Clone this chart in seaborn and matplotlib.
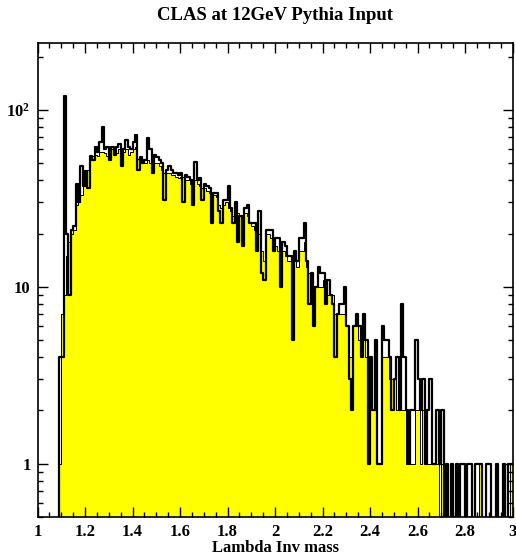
import numpy as np
import pandas as pd
import matplotlib
matplotlib.use("Agg")
import matplotlib.pyplot as plt
import seaborn as sns
from matplotlib.ticker import FixedLocator, MultipleLocator, NullFormatter, FixedFormatter

# ---- data: 200 bins of width 0.01 between 1.0 and 3.0 ----
x_min, x_max, n_bins = 1.0, 3.0, 200

yellow_counts = [
    0, 0, 0, 0, 0, 0, 0, 0, 0, 1,          # 1.00-1.09
    7, 9, 15, 18, 20, 21, 29, 30, 33, 37,  # 1.10-1.19
    42, 46, 52, 55, 56, 55, 58, 58, 57, 55,  # 1.20
    56, 60, 58, 57, 60, 52, 58, 60, 56, 58,  # 1.30
    60, 62, 53, 52, 51, 50, 52, 50, 49, 50,  # 1.40
    50, 48, 46, 44, 44, 44, 43, 43, 42, 41,  # 1.50
    42, 42, 40, 40, 38, 38, 40, 38, 37, 36,  # 1.60
    36, 35, 34, 33, 33, 32, 29, 28, 29, 30,  # 1.70
    28, 27, 25, 27, 26, 25, 24, 26, 25, 23,  # 1.80
    22, 21, 18, 20, 16, 14, 20, 20, 19, 16,  # 1.90
    17, 16, 15, 16, 15, 14, 14, 13, 14, 13,  # 2.00
    16, 16, 18, 13, 12, 10, 9, 10, 10, 10,   # 2.10
    11, 10, 9, 9, 9, 7, 7, 7, 7, 7,          # 2.20
    6, 4, 4, 6, 6, 5, 5, 5, 4, 3,            # 2.30
    2, 2, 2, 1, 1, 4, 4, 4, 3, 3,            # 2.40
    3, 2, 2, 2, 2, 1, 1, 1, 1, 2,            # 2.50
    2, 1, 2, 1, 1, 1, 1, 1, 1, 0,            # 2.60
    1, 0, 0, 0, 0, 0, 0, 0, 0, 0,            # 2.70
    0, 0, 0, 0, 0, 0, 1, 0, 0, 0,            # 2.80
    0, 0, 0, 0, 0, 0, 0, 0, 0, 1,            # 2.90
]

black_counts = [
    0, 0, 0, 0, 0, 0, 0, 0, 0, 4,            # 1.00-1.09
    4, 120, 20, 9, 21, 22, 38, 30, 48, 37,   # 1.10
    45, 36, 55, 52, 62, 58, 66, 80, 60, 62,  # 1.20
    52, 62, 56, 62, 64, 48, 60, 68, 62, 60,  # 1.30
    66, 72, 46, 54, 50, 52, 69, 60, 44, 56,  # 1.40
    54, 52, 50, 31, 46, 48, 46, 44, 44, 43,  # 1.50
    44, 30, 43, 42, 40, 29, 51, 40, 41, 31,  # 1.60
    38, 37, 36, 23, 34, 34, 27, 23, 31, 31,  # 1.70
    37, 28, 23, 30, 18, 25, 17, 28, 29, 23,  # 1.80
    23, 23, 16, 27, 12, 11, 21, 21, 21, 16,  # 1.90
    19, 19, 10, 18, 17, 15, 15, 5, 16, 14,   # 2.00
    19, 19, 23, 14, 8, 12, 6, 10, 13, 12,    # 2.10
    12, 8, 11, 9, 8, 4, 7, 8, 8, 10,         # 2.20
    6, 3, 2, 6, 7, 6, 4, 7, 5, 1,            # 2.30
    4, 2, 5, 1, 1, 6, 5, 5, 4, 2,            # 2.40
    3, 4, 2, 8, 4, 2, 1, 2, 2, 5,            # 2.50
    3, 2, 3, 1, 2, 3, 1, 1, 2, 1,            # 2.60
    2, 0, 1, 0, 1, 0, 1, 0, 1, 1,            # 2.70
    0, 1, 1, 0, 1, 1, 1, 0, 0, 1,            # 2.80
    1, 0, 0, 1, 0, 0, 1, 0, 1, 1,            # 2.90
]

x_tick_values = [1.0, 1.2, 1.4, 1.6, 1.8, 2.0, 2.2, 2.4, 2.6, 2.8, 3.0]
x_tick_labels = ["1", "1.2", "1.4", "1.6", "1.8", "2", "2.2", "2.4", "2.6", "2.8", "3"]
y_tick_values = [1, 10, 100]
y_tick_labels = ["1", "10", "10$^{2}$"]

title_text = "CLAS at 12GeV Pythia Input"
x_label = "Lambda Inv mass"

# ---- style ----
plt.rcParams["font.family"] = ["Liberation Serif", "DejaVu Serif"]
plt.rcParams["font.weight"] = "bold"
plt.rcParams["mathtext.fontset"] = "custom"
plt.rcParams["mathtext.rm"] = "Liberation Serif:bold"
plt.rcParams["mathtext.it"] = "Liberation Serif:bold"
plt.rcParams["mathtext.bf"] = "Liberation Serif:bold"

bin_width = (x_max - x_min) / n_bins
df = pd.DataFrame({
    "mass": x_min + bin_width * (np.arange(n_bins) + 0.5),
    "yellow": np.asarray(yellow_counts, dtype=float),
    "black": np.asarray(black_counts, dtype=float),
})

fig = plt.figure(figsize=(5.16, 5.57), dpi=100)
ax = fig.add_axes([37.5 / 516, 1 - 517 / 557, 475 / 516, (517 - 42.7) / 557])
ax.set_yscale("log")

sns.histplot(data=df, x="mass", weights="yellow", bins=n_bins,
             binrange=(x_min, x_max), element="step", fill=True,
             color="#ffff00", alpha=1.0, edgecolor="black", linewidth=0.7, ax=ax)
sns.histplot(data=df, x="mass", weights="black", bins=n_bins,
             binrange=(x_min, x_max), element="step", fill=False,
             color="black", linewidth=1.6, ax=ax)

ax.set_xlim(x_min, x_max)
ax.set_ylim(0.5, 240)

ax.xaxis.set_major_locator(FixedLocator(x_tick_values))
ax.xaxis.set_major_formatter(FixedFormatter(x_tick_labels))
ax.xaxis.set_minor_locator(MultipleLocator(0.05))
ax.yaxis.set_major_locator(FixedLocator(y_tick_values))
ax.yaxis.set_major_formatter(FixedFormatter(y_tick_labels))
minor_y = [m * 10 ** e for e in (-1, 0, 1, 2) for m in range(2, 10)]
ax.yaxis.set_minor_locator(FixedLocator(minor_y))
ax.yaxis.set_minor_formatter(NullFormatter())

ax.tick_params(which="both", direction="in", top=True, right=True,
               width=1.0, labelsize=12)
ax.tick_params(which="major", length=7)
ax.tick_params(which="minor", length=3.5)
ax.tick_params(axis="x", pad=5)
ax.tick_params(axis="y", pad=5)
for lab in ax.get_xticklabels() + ax.get_yticklabels():
    lab.set_fontweight("bold")
for s in ax.spines.values():
    s.set_linewidth(1.2)

ax.set_ylabel("")
ax.set_xlabel(x_label, fontsize=12, fontweight="bold", labelpad=0)
fig.text((37.5 + 475 / 2) / 516, 1 - 16 / 557, title_text, ha="center",
         va="center", fontsize=13.5, fontweight="bold")

fig.savefig("out.png", dpi=100)
